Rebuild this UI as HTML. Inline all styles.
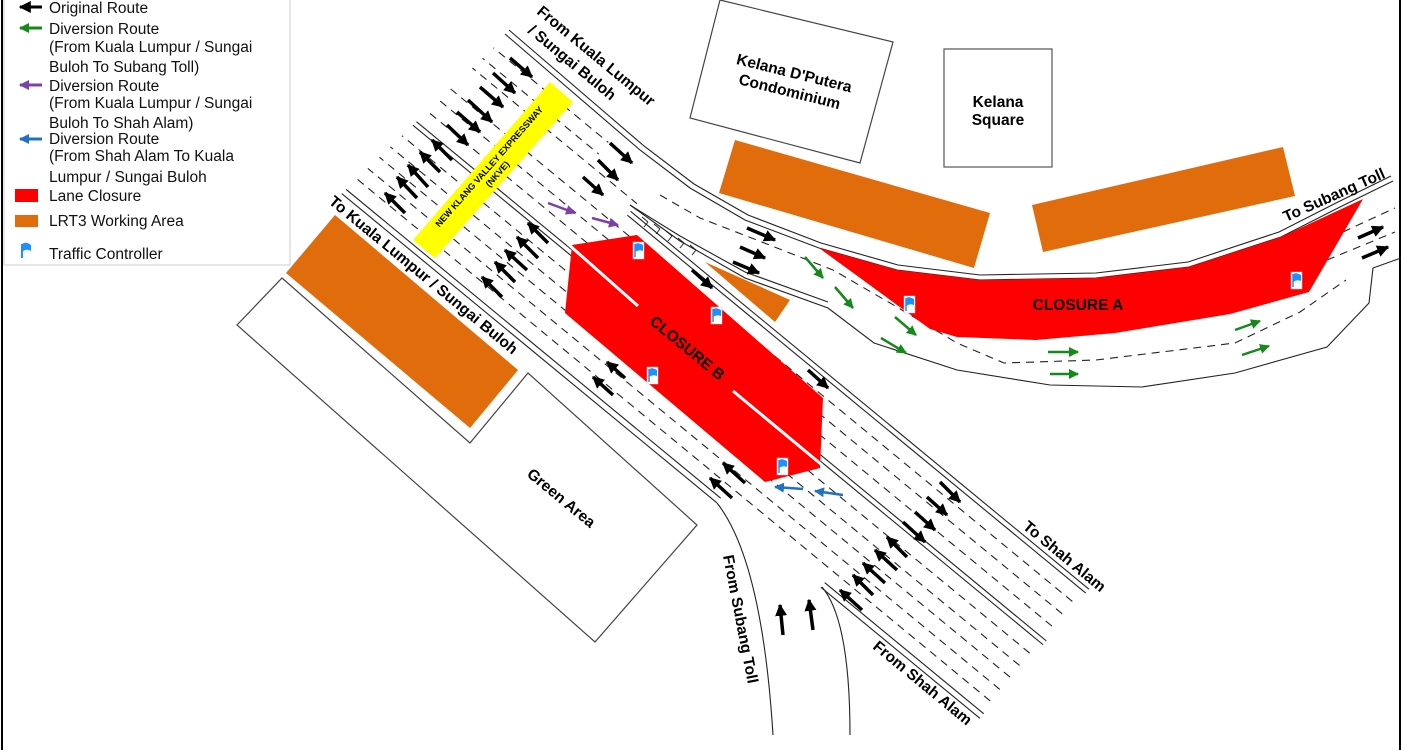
<!DOCTYPE html>
<html><head><meta charset="utf-8"><style>
html,body{margin:0;padding:0;background:#fff;}
svg{display:block;}
text{font-family:"Liberation Sans",Arial,sans-serif;}
.lab{font-weight:bold;font-size:15.5px;fill:#000;}
.leg{font-size:15.5px;fill:#111;}
</style></head><body>
<svg width="1404" height="750" viewBox="0 0 1404 750" xmlns="http://www.w3.org/2000/svg">
<defs>
<marker id="mk" viewBox="0 0 10 10" refX="9" refY="5" markerWidth="12" markerHeight="12" markerUnits="userSpaceOnUse" orient="auto"><path d="M0,0 L10,5 L0,10 z" fill="#000"/></marker>
<marker id="mg" viewBox="0 0 10 10" refX="9" refY="5" markerWidth="10" markerHeight="10" markerUnits="userSpaceOnUse" orient="auto"><path d="M0,0 L10,5 L0,10 z" fill="#15891a"/></marker>
<marker id="mp" viewBox="0 0 10 10" refX="9" refY="5" markerWidth="10" markerHeight="10" markerUnits="userSpaceOnUse" orient="auto"><path d="M0,0 L10,5 L0,10 z" fill="#7e3fa8"/></marker>
<marker id="mb" viewBox="0 0 10 10" refX="9" refY="5" markerWidth="10" markerHeight="10" markerUnits="userSpaceOnUse" orient="auto"><path d="M0,0 L10,5 L0,10 z" fill="#1f72c4"/></marker>
<clipPath id="hc"><polygon points="335,200 512,30 1404,30 1404,750 335,750"/></clipPath>
<g id="flag"><rect x="0" y="0" width="11" height="17" fill="#fff" stroke="#ccc" stroke-width="0.5"/><path d="M2,2 L2,15" stroke="#1e90ff" stroke-width="1.5"/><path d="M2,2 Q5,0 10,3 L10,9 Q6,7 2,10 z" fill="#1e90ff"/></g>
</defs>

<!-- frame -->
<rect x="2" y="-2" width="1398" height="760" fill="none" stroke="#000" stroke-width="2"/>

<!-- buildings -->
<polygon points="720,0 893,42 860,163 690,118" fill="#fff" stroke="#444" stroke-width="1.2"/>
<rect x="944" y="49" width="108" height="118" fill="#fff" stroke="#555" stroke-width="1.2"/>
<g transform="translate(792,82) rotate(14)"><text class="lab" text-anchor="middle" y="-4">Kelana D'Putera</text><text class="lab" text-anchor="middle" y="15">Condominium</text></g>
<text class="lab" x="998" y="107" text-anchor="middle">Kelana</text>
<text class="lab" x="998" y="125" text-anchor="middle">Square</text>

<!-- orange work areas -->
<polygon points="735,140 990,213 974,268 719,193" fill="#e06c0c"/>
<polygon points="1032,205 1283,147 1295,196 1043,252" fill="#e06c0c"/>
<polygon points="705,262 790,300 775,322" fill="#e06c0c"/>

<!-- left boxes -->
<polygon points="237,325 282,278 470,443 528,373 697,525 595,642" fill="#fff" stroke="#444" stroke-width="1.2"/>
<polygon points="286,273 335,215 518,370 470,428" fill="#e06c0c"/>
<g transform="translate(558,502) rotate(39.5)"><text class="lab" text-anchor="middle" font-size="17">Green Area</text></g>

<!-- main highway (rotated frame) -->
<g clip-path="url(#hc)"><g transform="rotate(39.5)" fill="none" stroke="#222" stroke-width="1.1">
<line x1="300" y1="-68" x2="873" y2="-68"/><line x1="300" y1="-74" x2="873" y2="-74"/>
<line x1="1007" y1="-69" x2="1213" y2="-69"/><line x1="1007" y1="-75" x2="1213" y2="-75"/>
<g stroke-dasharray="8 6">
<line x1="250" y1="-89" x2="1212" y2="-89"/>
<line x1="250" y1="-104" x2="1212" y2="-104"/>
<line x1="250" y1="-120" x2="1212" y2="-120"/>
<line x1="250" y1="-135" x2="1212" y2="-135"/>
<line x1="250" y1="-151" x2="1212" y2="-151"/>
<line x1="250" y1="-186" x2="1212" y2="-186"/>
<line x1="250" y1="-202" x2="1212" y2="-202"/>
<line x1="250" y1="-218" x2="1212" y2="-218"/>
<line x1="250" y1="-248" x2="621" y2="-248"/>
<line x1="250" y1="-262" x2="560" y2="-262"/>
<line x1="250" y1="-277" x2="560" y2="-277"/>
</g>
<line x1="250" y1="-166" x2="1215" y2="-166"/><line x1="250" y1="-171" x2="1215" y2="-171"/>
<line x1="621" y1="-233" x2="1215" y2="-233"/><line x1="621" y1="-238" x2="1215" y2="-238"/>
</g></g>

<!-- slip road -->
<g fill="none" stroke="#222" stroke-width="1.1">
<polyline points="505,34 640,150 690,188 745,220 819,248 897,270 980,280 1096,278 1189,267 1281,237 1340,207 1393,181"/>
<polyline points="509,30 644,146 694,184 748,215 821,243 898,265 980,275 1096,273 1188,262 1279,232 1338,202 1391,176"/>
<polyline stroke-dasharray="8 6" points="660,195 700,218 749,237 833,270 897,307 957,343 1004,363 1096,360 1235,343 1300,312 1346,280"/>
<polyline stroke-dasharray="8 6" points="1343,232 1395,208"/>
<polyline stroke-dasharray="8 6" points="1327,260 1395,232"/>
<polyline points="630,205 680,236 745,272 828,302"/>
<polyline points="630,205 680,241 745,278 828,308 874,343 957,370 1050,385 1142,387 1235,373 1327,347 1369,303 1373,268 1401,258"/>
<path d="M717,503 Q762,560 773,735"/>
<path d="M822,587 Q850,620 850,735"/>
<path d="M648,222 l-6,-5 M660,229 l-6,-5 M672,236 l-6,-5 M684,243 l-6,-5 M696,250 l-6,-5 M648,222 l-4,5 M660,229 l-4,5 M672,236 l-4,5 M684,243 l-4,5 M696,250 l-4,5" stroke-width="1"/>
</g>

<!-- closures (on top of lane lines) -->
<polygon points="819,248 897,270 980,280 1096,278 1189,267 1281,237 1363,199 1309,292 1230,314 1115,333 1036,340 957,337 930,329" fill="#ff0000"/>
<polygon points="572,245 637,235 823,398 820,468 765,482 565,313" fill="#ff0000"/>
<line x1="568" y1="244" x2="638" y2="306" stroke="#fff" stroke-width="3"/>
<line x1="733" y1="391" x2="822" y2="465" stroke="#fff" stroke-width="3"/>

<!-- yellow sign -->
<polygon points="550,82 573,102 435,258 413,240" fill="#ffff00"/>
<g transform="translate(493,170) rotate(-48.5)"><text text-anchor="middle" y="-2" font-size="9" font-weight="bold">NEW KLANG VALLEY EXPRESSWAY</text><text text-anchor="middle" y="9" font-size="9" font-weight="bold">(NKVE)</text></g>

<!-- closure labels -->
<g transform="translate(684,352) rotate(39.5)"><text class="lab" text-anchor="middle" font-size="19">CLOSURE B</text></g>
<text class="lab" x="1078" y="310" text-anchor="middle" font-size="18">CLOSURE A</text>

<!-- flags -->
<use href="#flag" x="633" y="242"/><use href="#flag" x="711" y="307"/><use href="#flag" x="647" y="367"/><use href="#flag" x="777" y="458"/><use href="#flag" x="904" y="296"/><use href="#flag" x="1291" y="272"/>

<!-- black arrows -->
<g stroke="#000" stroke-width="3.5" marker-end="url(#mk)">
<line x1="510" y1="58" x2="532" y2="77"/><line x1="493" y1="73" x2="515" y2="93"/><line x1="480" y1="87" x2="503" y2="107"/><line x1="468" y1="100" x2="492" y2="122"/><line x1="457" y1="112" x2="480" y2="132"/><line x1="447" y1="125" x2="468" y2="145"/>
<line x1="405" y1="213" x2="385" y2="193"/><line x1="417" y1="198" x2="397" y2="177"/><line x1="428" y1="187" x2="408" y2="165"/><line x1="440" y1="172" x2="420" y2="152"/><line x1="452" y1="160" x2="432" y2="140"/>
<line x1="502" y1="297" x2="482" y2="277"/><line x1="515" y1="282" x2="495" y2="262"/><line x1="527" y1="270" x2="505" y2="250"/><line x1="538" y1="258" x2="517" y2="237"/><line x1="548" y1="243" x2="528" y2="223"/>
<line x1="610" y1="143" x2="632" y2="163"/><line x1="598" y1="160" x2="618" y2="180"/><line x1="583" y1="177" x2="603" y2="195"/>
<line x1="692" y1="270" x2="712" y2="288"/><line x1="808" y1="370" x2="828" y2="388"/>
<line x1="625" y1="378" x2="607" y2="362"/><line x1="613" y1="395" x2="593" y2="377"/>
<line x1="747" y1="228" x2="775" y2="240"/><line x1="740" y1="247" x2="765" y2="258"/><line x1="733" y1="262" x2="759" y2="273"/>
<line x1="1358" y1="238" x2="1383" y2="227"/><line x1="1362" y1="258" x2="1388" y2="247"/>
<line x1="732" y1="498" x2="710" y2="478"/><line x1="745" y1="483" x2="723" y2="463"/>
<line x1="940" y1="482" x2="960" y2="502"/><line x1="927" y1="497" x2="947" y2="515"/><line x1="915" y1="512" x2="935" y2="530"/><line x1="903" y1="522" x2="925" y2="542"/>
<line x1="907" y1="557" x2="887" y2="537"/><line x1="897" y1="570" x2="875" y2="550"/><line x1="885" y1="583" x2="863" y2="563"/><line x1="873" y1="595" x2="853" y2="575"/><line x1="862" y1="610" x2="840" y2="590"/>
<line x1="783" y1="635" x2="780" y2="605"/><line x1="813" y1="630" x2="809" y2="600"/>
</g>
<g stroke="#15891a" stroke-width="2.5" marker-end="url(#mg)">
<line x1="805" y1="257" x2="823" y2="278"/><line x1="835" y1="287" x2="853" y2="308"/><line x1="895" y1="317" x2="916" y2="335"/><line x1="881" y1="338" x2="906" y2="353"/>
<line x1="1048" y1="352" x2="1078" y2="352"/><line x1="1050" y1="374" x2="1078" y2="374"/><line x1="1235" y1="330" x2="1260" y2="321"/><line x1="1242" y1="355" x2="1269" y2="346"/>
</g>
<g stroke="#7e3fa8" stroke-width="2.5" marker-end="url(#mp)"><line x1="548" y1="203" x2="575" y2="213"/><line x1="592" y1="218" x2="618" y2="225"/></g>
<g stroke="#1f72c4" stroke-width="2.5" marker-end="url(#mb)"><line x1="803" y1="489" x2="775" y2="487"/><line x1="843" y1="495" x2="815" y2="491"/></g>

<!-- road labels -->
<g transform="translate(536,13) rotate(39.5)"><text class="lab">From Kuala Lumpur</text></g>
<g transform="translate(527,32) rotate(39.5)"><text class="lab">/ Sungai Buloh</text></g>
<g transform="translate(328,203) rotate(39.5)"><text class="lab">To Kuala Lumpur / Sungai Buloh</text></g>
<g transform="translate(1022,528) rotate(39.5)"><text class="lab">To Shah Alam</text></g>
<g transform="translate(872,648) rotate(39.5)"><text class="lab">From Shah Alam</text></g>
<g transform="translate(723,556) rotate(79)"><text class="lab">From Subang Toll</text></g>
<g transform="translate(1286,222) rotate(-24)"><text class="lab">To Subang Toll</text></g>

<!-- legend -->
<rect x="4" y="-1" width="286" height="266" fill="#fff" stroke="#ccc" stroke-width="1"/>
<g stroke-width="3">
<line x1="42" y1="7" x2="20" y2="7" stroke="#000" marker-end="url(#mk)"/>
<line x1="42" y1="28" x2="20" y2="28" stroke="#15891a" marker-end="url(#mg)"/>
<line x1="42" y1="85" x2="20" y2="85" stroke="#7e3fa8" marker-end="url(#mp)"/>
<line x1="42" y1="139" x2="20" y2="139" stroke="#1f72c4" marker-end="url(#mb)"/>
</g>
<rect x="15" y="189" width="23" height="13" fill="#ff0000"/>
<rect x="15" y="215" width="23" height="12" fill="#e06c0c"/>
<path d="M22,244 L22,258" stroke="#1e90ff" stroke-width="2"/><path d="M22,244 Q26,241 31,245 L31,251 Q26,248 22,252 z" fill="#1e90ff"/>
<text class="leg" x="49" y="13">Original Route</text>
<text class="leg" x="49" y="34">Diversion Route</text>
<text class="leg" x="49" y="52">(From Kuala Lumpur / Sungai</text>
<text class="leg" x="49" y="72">Buloh To Subang Toll)</text>
<text class="leg" x="49" y="91">Diversion Route</text>
<text class="leg" x="49" y="108">(From Kuala Lumpur / Sungai</text>
<text class="leg" x="49" y="128">Buloh  To Shah Alam)</text>
<text class="leg" x="49" y="144">Diversion Route</text>
<text class="leg" x="49" y="161">(From Shah Alam To Kuala</text>
<text class="leg" x="49" y="182">Lumpur / Sungai Buloh</text>
<text class="leg" x="49" y="201">Lane Closure</text>
<text class="leg" x="49" y="226">LRT3 Working Area</text>
<text class="leg" x="49" y="259">Traffic Controller</text>
</svg>
</body></html>
